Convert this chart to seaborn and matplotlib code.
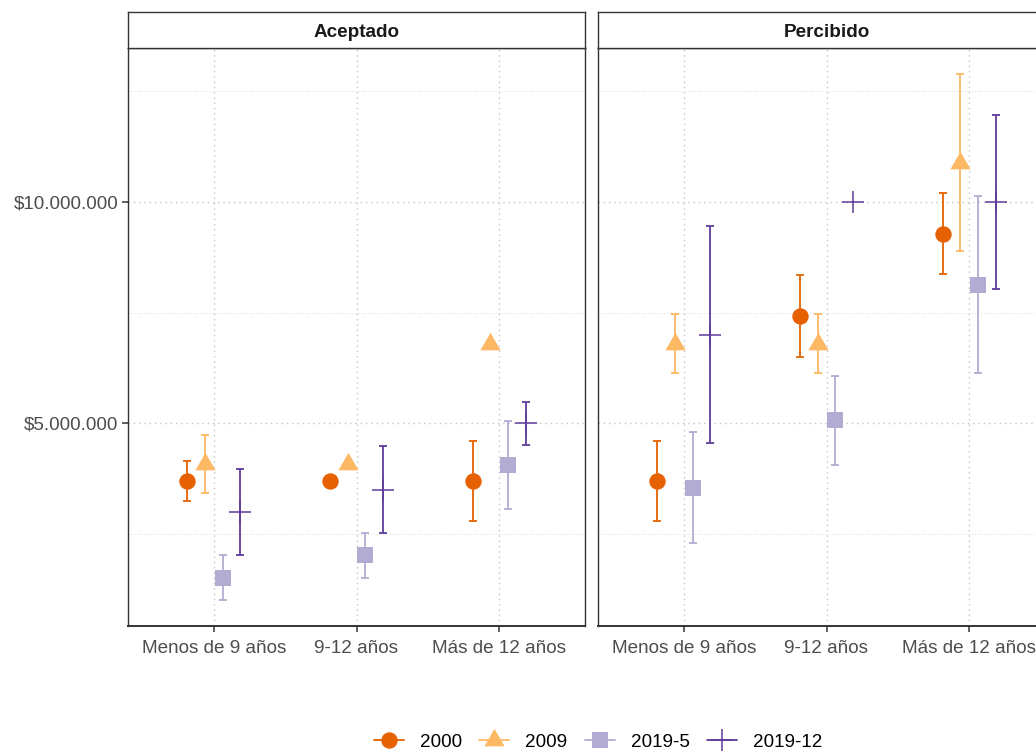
import numpy as np
import pandas as pd
import matplotlib
matplotlib.use("Agg")
import matplotlib.pyplot as plt
from matplotlib.lines import Line2D
from matplotlib.ticker import FuncFormatter
import seaborn as sns

# ---- data (millions of pesos) ----
paneles = ["Aceptado", "Percibido"]
categorias = ["Menos de 9 años", "9-12 años", "Más de 12 años"]
series = ["2000", "2009", "2019-5", "2019-12"]

aceptado_2000 = [3.70, 3.70, 3.70]
aceptado_2000_err = [0.45, 0.00, 0.90]
aceptado_2009 = [4.08, 4.08, 6.80]
aceptado_2009_err = [0.66, 0.00, 0.00]
aceptado_2019_5 = [1.52, 2.02, 4.06]
aceptado_2019_5_err = [0.50, 0.50, 1.00]
aceptado_2019_12 = [3.00, 3.50, 5.00]
aceptado_2019_12_err = [0.98, 0.98, 0.49]

percibido_2000 = [3.70, 7.42, 9.28]
percibido_2000_err = [0.90, 0.92, 0.91]
percibido_2009 = [6.80, 6.80, 10.88]
percibido_2009_err = [0.66, 0.66, 2.00]
percibido_2019_5 = [3.55, 5.07, 8.13]
percibido_2019_5_err = [1.25, 1.00, 2.00]
percibido_2019_12 = [7.00, 10.00, 10.00]
percibido_2019_12_err = [2.45, 0.00, 1.96]

valores = {
    "Aceptado": [aceptado_2000, aceptado_2009, aceptado_2019_5, aceptado_2019_12],
    "Percibido": [percibido_2000, percibido_2009, percibido_2019_5, percibido_2019_12],
}
errores = {
    "Aceptado": [aceptado_2000_err, aceptado_2009_err, aceptado_2019_5_err, aceptado_2019_12_err],
    "Percibido": [percibido_2000_err, percibido_2009_err, percibido_2019_5_err, percibido_2019_12_err],
}

rows = []
for p in paneles:
    for s, vals, errs in zip(series, valores[p], errores[p]):
        for c, v, e in zip(categorias, vals, errs):
            rows.append({"panel": p, "serie": s, "categoria": c,
                         "valor": v * 1e6, "err": e * 1e6})
df = pd.DataFrame(rows)

# ---- style ----
sns.set_theme(style="white")
plt.rcParams["font.family"] = ["Liberation Sans", "DejaVu Sans"]

colores = ["#E66101", "#FDB863", "#B2ABD2", "#5E3C99"]
tri = [(0, 1), (-0.866, -0.5), (0.866, -0.5), (0, 1)]
marcadores = ["o", tri, "s", "+"]
tamanos = [11.8, 16.8, 11.4, 16.5]
dodge = np.linspace(-0.1875, 0.1875, len(series))

borde = "#333333"
txt_gris = "#4D4D4D"
fs = 13.6

lo = (df["valor"] - df["err"]).min()
hi = (df["valor"] + df["err"]).max()
pad = 0.05 * (hi - lo)

fig = plt.figure(figsize=(10.36, 7.52), dpi=100)
W, H = 1036, 752
pan_w, pan_top, pan_bot = 457, 48, 626
pan_left = [128, 598]
strip_h = 36


def pesos(x, pos):
    return "$" + f"{int(round(x)):,}".replace(",", ".")


for i, p in enumerate(paneles):
    ax = fig.add_axes([pan_left[i] / W, (H - pan_bot) / H,
                       pan_w / W, (pan_bot - pan_top) / H])
    sub = df[df["panel"] == p]
    for j, s in enumerate(series):
        d = sub[sub["serie"] == s]
        xpos = np.array([categorias.index(c) for c in d["categoria"]]) + dodge[j]
        con_err = d["err"].values > 0
        if con_err.any():
            ax.errorbar(xpos[con_err], d["valor"].values[con_err],
                        yerr=d["err"].values[con_err], fmt="none",
                        ecolor=colores[j], elinewidth=1.3, capsize=2.7,
                        capthick=1.3, zorder=2)
        if s == "2019-12":
            sns.scatterplot(x=xpos, y=d["valor"].values, marker="+",
                            s=tamanos[j] ** 2, color=colores[j],
                            edgecolor=colores[j], linewidth=1.1,
                            ax=ax, zorder=3, legend=False)
        else:
            sns.scatterplot(x=xpos, y=d["valor"].values, marker=marcadores[j],
                            s=tamanos[j] ** 2, color=colores[j],
                            linewidth=0, ax=ax, zorder=3, legend=False)

    ax.set_xlim(-0.6, 2.6)
    ax.set_ylim(lo - pad, hi + pad)
    ax.set_xticks(range(len(categorias)))
    ax.set_xticklabels(categorias)
    ax.set_yticks([5e6, 10e6])
    ax.set_yticks([2.5e6, 7.5e6, 12.5e6], minor=True)
    ax.yaxis.set_major_formatter(FuncFormatter(pesos))
    ax.set_xlabel("")
    ax.set_ylabel("")

    ax.grid(True, which="major", axis="both", color="#C4C4C4",
            linestyle=(0, (1, 2.8)), linewidth=1.0, zorder=0)
    ax.grid(True, which="minor", axis="y", color="#D6D6D6",
            linestyle=(0, (1, 2.2)), linewidth=0.7, zorder=0)
    ax.set_axisbelow(True)

    for sp in ax.spines.values():
        sp.set_color(borde)
        sp.set_linewidth(1.0)
        sp.set_visible(True)
    ax.spines["bottom"].set_linewidth(1.4)

    ax.tick_params(axis="x", which="major", length=4.3, width=1.1,
                   color=borde, labelsize=fs, labelcolor=txt_gris, pad=5.5,
                   bottom=True)
    ax.tick_params(which="minor", length=0)
    if i == 0:
        ax.tick_params(axis="y", which="major", length=4.3, width=1.1,
                       color=borde, labelsize=fs, labelcolor=txt_gris,
                       pad=2.5, left=True)
    else:
        ax.tick_params(axis="y", which="major", length=0, labelleft=False)

    # facet strip
    sax = fig.add_axes([pan_left[i] / W, (H - pan_top) / H,
                        pan_w / W, strip_h / H])
    sax.set_xticks([])
    sax.set_yticks([])
    sax.set_facecolor("white")
    for sp in sax.spines.values():
        sp.set_color(borde)
        sp.set_linewidth(1.0)
    sax.text(0.5, 0.44, p, ha="center", va="center", fontsize=fs,
             fontweight="bold", color="#1A1A1A", transform=sax.transAxes)

# legend
handles = []
for j, s in enumerate(series):
    if s == "2019-12":
        h = Line2D([], [], color=colores[j], marker="+",
                   markersize=tamanos[j], markeredgewidth=1.1, linewidth=1.3)
    else:
        h = Line2D([], [], color=colores[j], marker=marcadores[j],
                   markersize=tamanos[j], markeredgewidth=0, linewidth=1.3)
    handles.append(h)

fig.legend(handles, series, loc="center", ncol=4,
           bbox_to_anchor=(598 / W, 10 / H), frameon=False,
           fontsize=fs, handlelength=1.6, handletextpad=0.85,
           columnspacing=0.9, labelcolor="black")

fig.savefig("out.png", dpi=100)
